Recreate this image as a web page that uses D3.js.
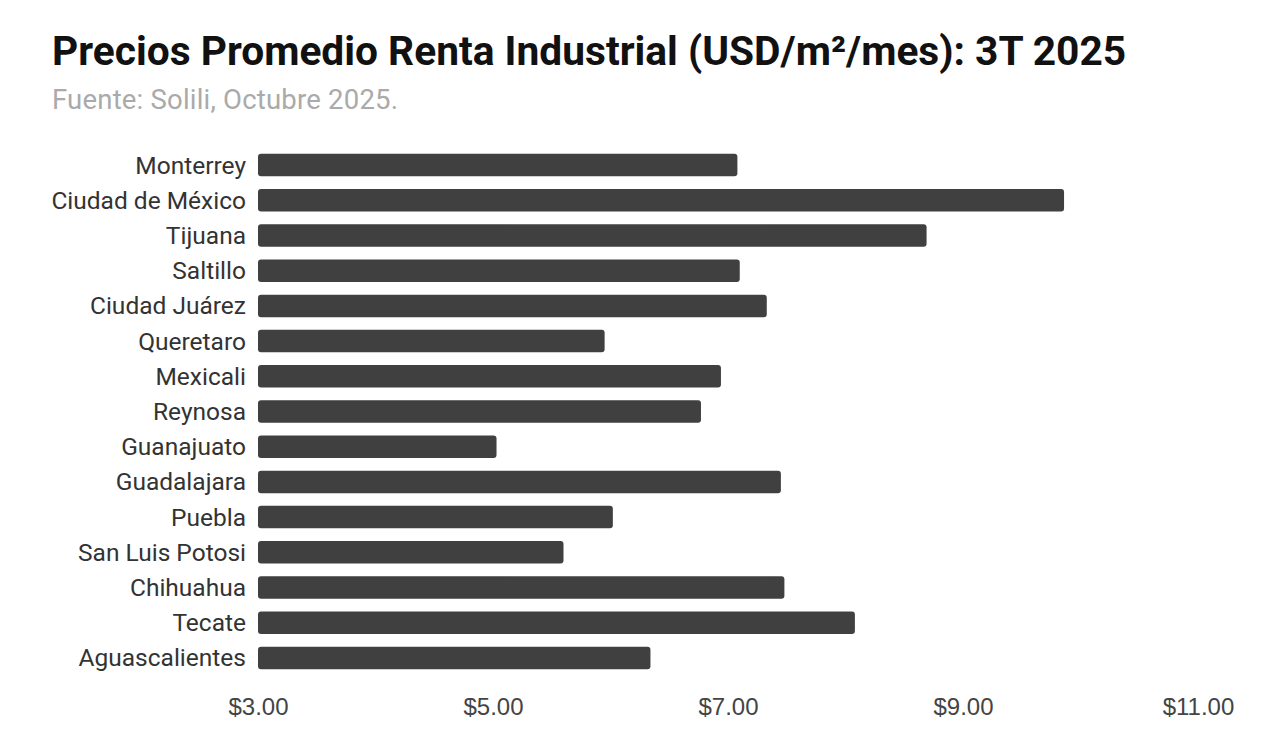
<!DOCTYPE html>
<html>
<head>
<meta charset="utf-8">
<script src="https://cdn.jsdelivr.net/npm/d3@7"></script>
<style>
  body { margin: 0; background: #fff; }
  svg { font-family: Roboto, "Noto Sans", sans-serif; }
</style>
</head>
<body>
<div id="chart"></div>
<script>
var cities = ["Monterrey", "Ciudad de México", "Tijuana", "Saltillo", "Ciudad Juárez",
    "Queretaro", "Mexicali", "Reynosa", "Guanajuato", "Guadalajara", "Puebla",
    "San Luis Potosi", "Chihuahua", "Tecate", "Aguascalientes"];
var prices = [7.08, 9.86, 8.69, 7.10, 7.33, 5.95, 6.94, 6.77, 5.03, 7.45, 6.02, 5.60, 7.48, 8.08, 6.34];
var tickValues = [3, 5, 7, 9, 11];

var width = 1268, height = 756;

var svg = d3.select("#chart")
    .append("svg")
    .attr("width", width)
    .attr("height", height);

// titulo y fuente
svg.append("text")
    .attr("x", 52)
    .attr("y", 65)
    .attr("font-size", 40.7)
    .attr("font-weight", "bold")
    .attr("fill", "#111")
    .text("Precios Promedio Renta Industrial (USD/m²/mes): 3T 2025");

svg.append("text")
    .attr("x", 52)
    .attr("y", 109)
    .attr("font-size", 27.5)
    .attr("letter-spacing", 0.2)
    .attr("fill", "#aaa")
    .text("Fuente: Solili, Octubre 2025.");

var x = d3.scaleLinear().domain([3, 11]).range([258, 1198]);
var y = d3.scaleBand().domain(cities).range([147.5, 675.5]).paddingInner(0.36).paddingOuter(0.18);

var data = cities.map(function (c, i) { return { city: c, value: prices[i] }; });

svg.append("g")
    .selectAll("rect")
    .data(data)
    .enter()
    .append("rect")
    .attr("x", x(3))
    .attr("y", function (d) { return y(d.city); })
    .attr("width", function (d) { return x(d.value) - x(3); })
    .attr("height", y.bandwidth())
    .attr("rx", 3)
    .attr("fill", "#404040");

// etiquetas de ciudades
svg.append("g")
    .selectAll("text")
    .data(data)
    .enter()
    .append("text")
    .attr("x", 246)
    .attr("y", function (d) { return y(d.city) + y.bandwidth() / 2; })
    .attr("dy", "0.35em")
    .attr("text-anchor", "end")
    .attr("font-size", 24.5)
    .attr("fill", "#333")
    .text(function (d) { return d.city; });

var axis = svg.append("g")
    .attr("transform", "translate(0,697)")
    .call(d3.axisBottom(x)
        .tickValues(tickValues)
        .tickSize(0)
        .tickPadding(0)
        .tickFormat(function (d) { return "$" + d3.format(".2f")(d); }));

axis.select(".domain").remove();
axis.selectAll("text")
    .attr("font-family", "'Liberation Sans', Arial, sans-serif")
    .attr("font-size", 24)
    .attr("fill", "#444")
    .attr("dy", "0.75em");
</script>
</body>
</html>
